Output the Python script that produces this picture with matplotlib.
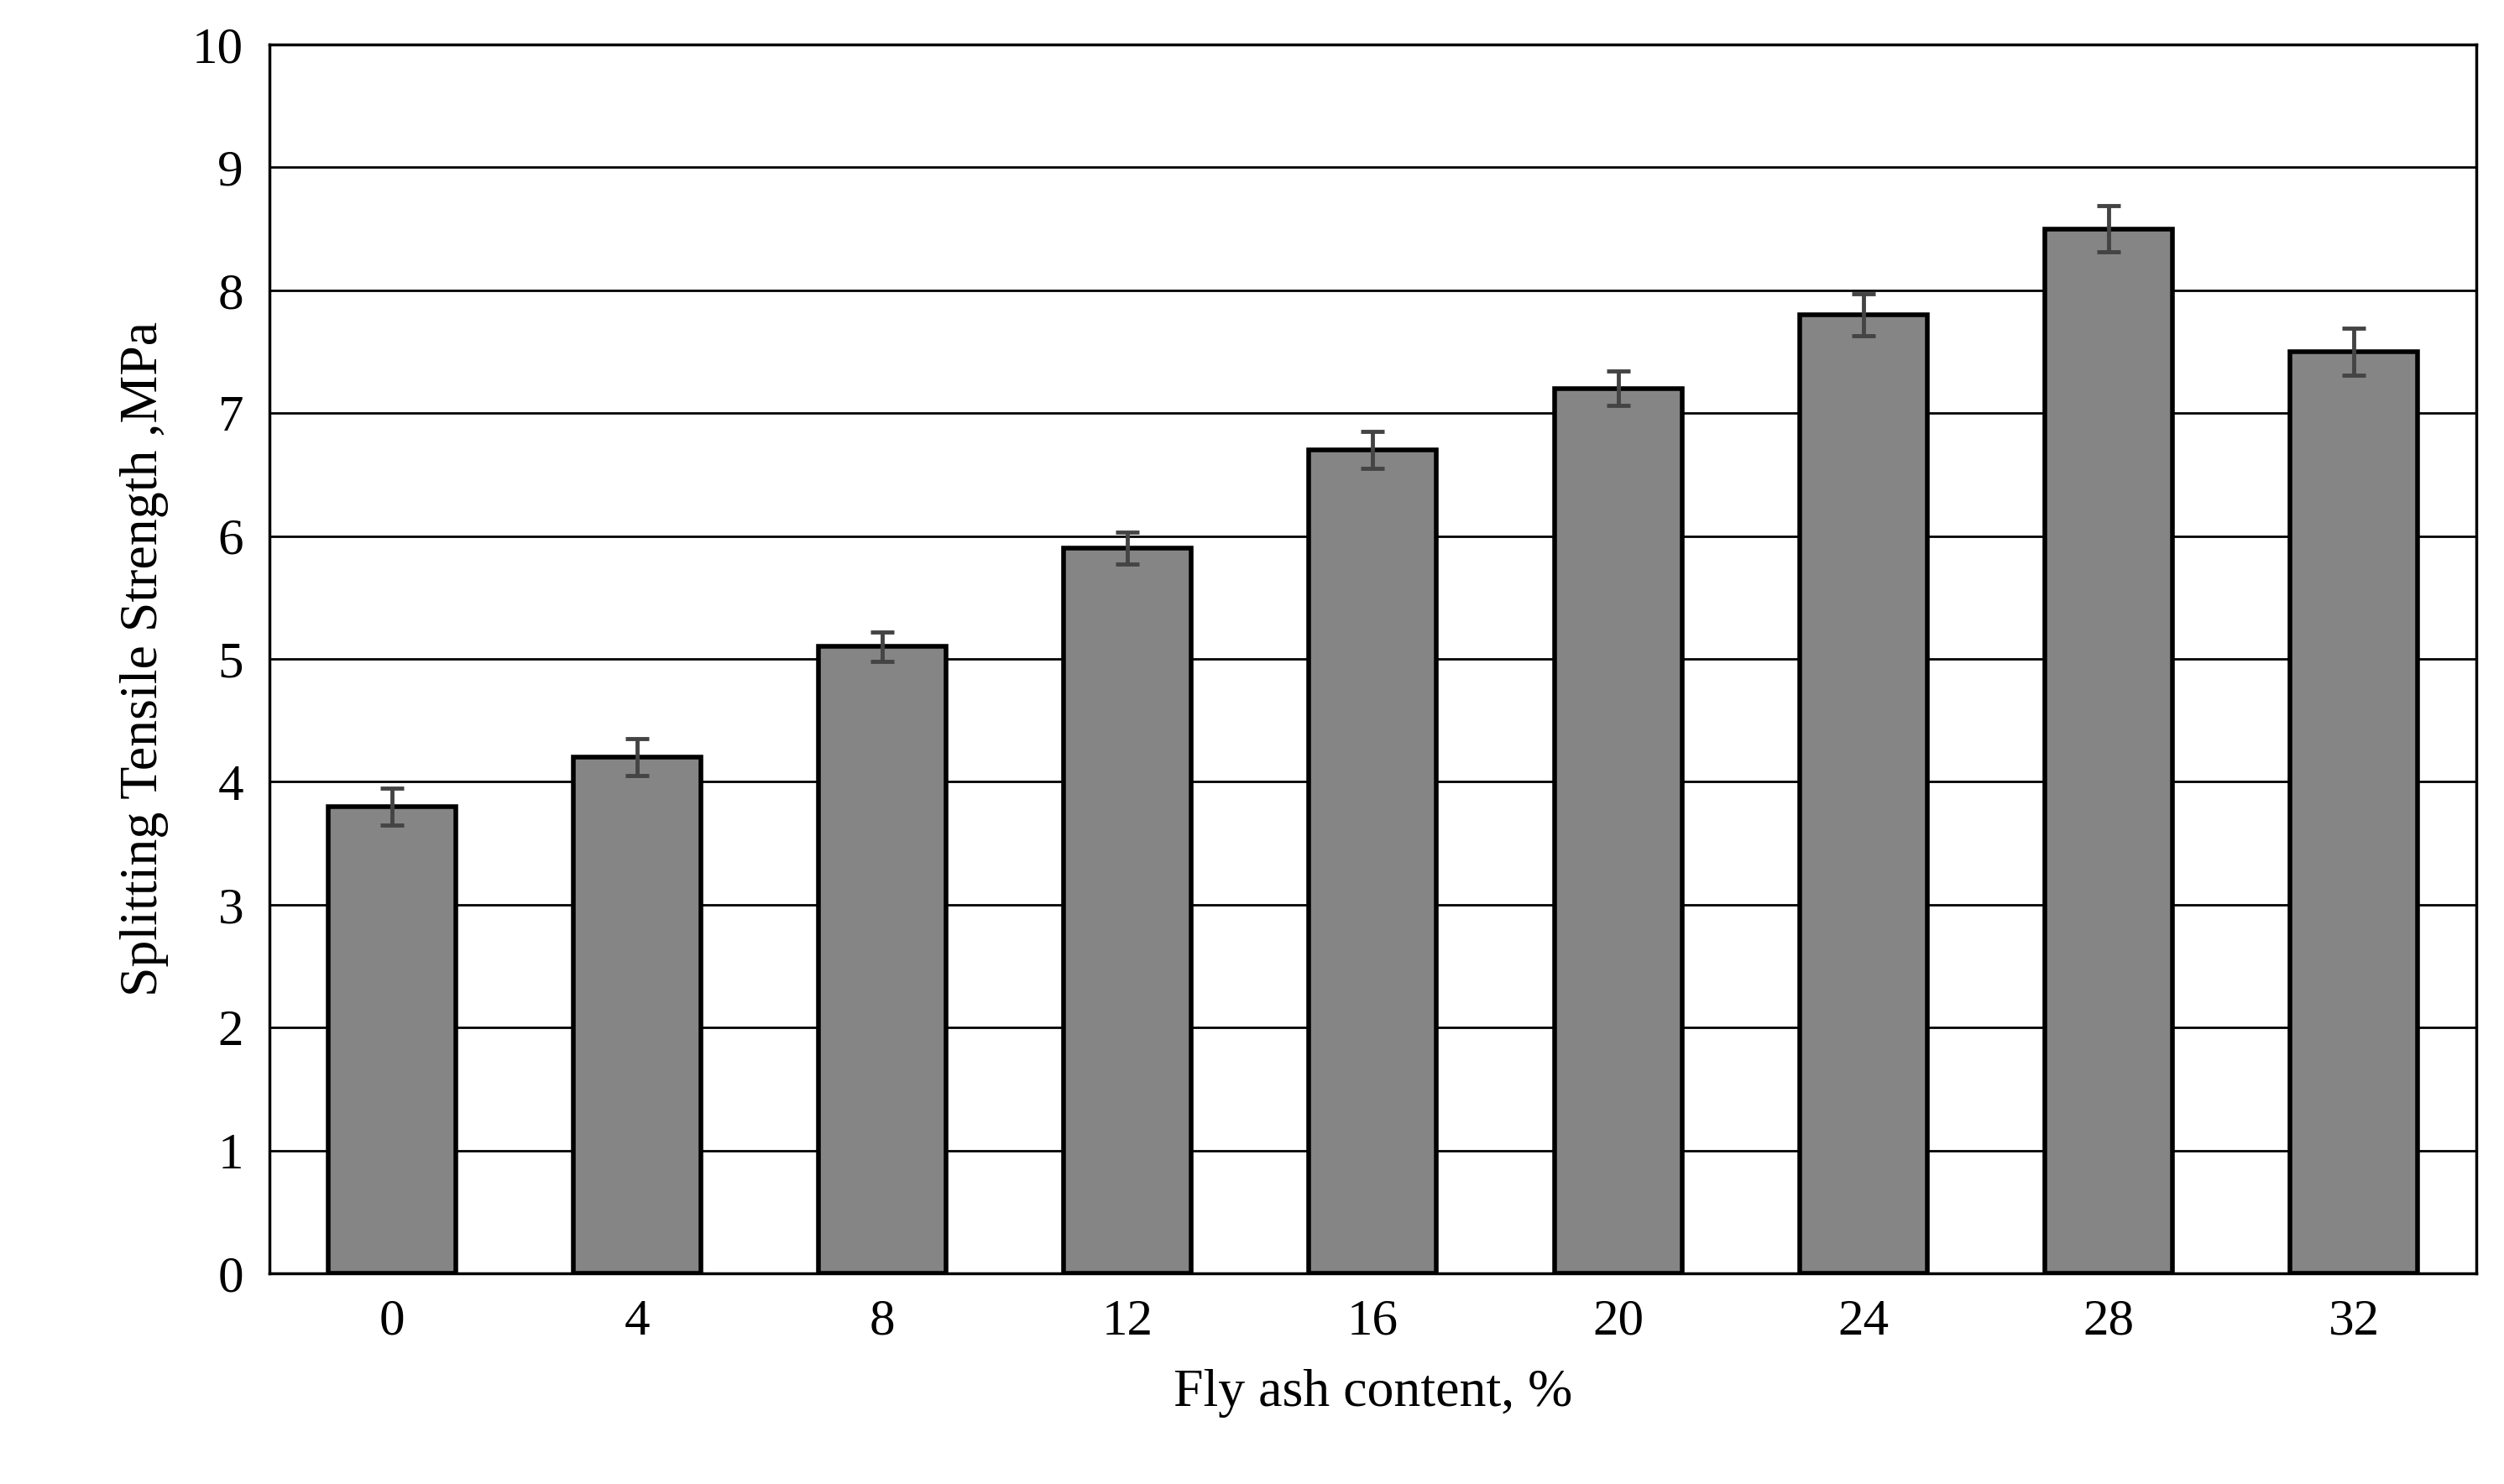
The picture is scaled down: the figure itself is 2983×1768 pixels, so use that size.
import matplotlib
matplotlib.use("Agg")
import matplotlib.pyplot as plt

categories = ["0", "4", "8", "12", "16", "20", "24", "28", "32"]
values = [3.8, 4.2, 5.1, 5.9, 6.7, 7.2, 7.8, 8.5, 7.5]
errors = [0.15, 0.15, 0.12, 0.13, 0.15, 0.14, 0.17, 0.19, 0.19]

plt.rcParams['font.family'] = ['Liberation Serif', 'DejaVu Serif']
fig = plt.figure(figsize=(29.83, 17.68), dpi=100)
ax = fig.add_axes([0.1075, 0.142, 0.8815, 0.828])
x = range(len(categories))
ax.bar(x, values, width=0.52, color='#858585', edgecolor='black', linewidth=4, zorder=3)
ax.errorbar(x, values, yerr=errors, fmt='none', ecolor='#444444', elinewidth=3.5, capsize=10, capthick=3.5, zorder=4)
ax.set_ylim(0, 10)
ax.set_xlim(-0.5, len(categories) - 0.5)
ax.set_yticks(range(0, 11))
ax.set_xticks(list(x))
ax.set_xticklabels(categories)
ax.yaxis.grid(True, color='black', linewidth=2, zorder=0)
ax.set_axisbelow(True)
for s in ax.spines.values():
    s.set_linewidth(2.5)
ax.tick_params(axis='both', labelsize=44, length=0, pad=22)
ax.set_xlabel("Fly ash content, %", fontsize=46, labelpad=20)
ax.set_ylabel("Splitting Tensile Strength ,MPa", fontsize=46, labelpad=20)
fig.savefig("out.png", dpi=100)
